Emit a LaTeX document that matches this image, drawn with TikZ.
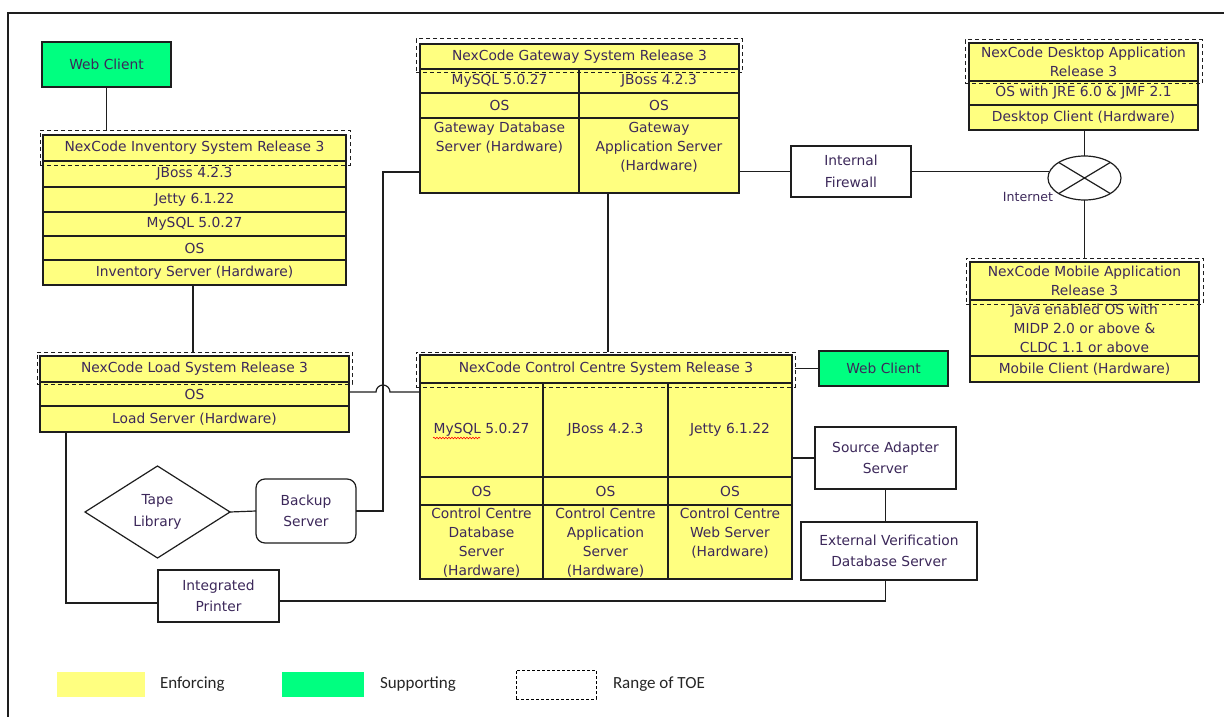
\documentclass[tikz,border=0pt]{standalone}
\usepackage{fontspec}
\setmainfont{DejaVu Sans}
\newfontfamily\legfont{Carlito}
\usetikzlibrary{shapes.geometric,decorations.pathmorphing,calc}
\definecolor{yel}{RGB}{255,255,128}
\definecolor{grn}{RGB}{0,255,128}
\definecolor{txtc}{RGB}{60,40,90}
\definecolor{ln}{RGB}{30,30,30}
\newcommand\cbox[7][]{\node[cell,#1,minimum width={(#5-#3)*1pt},minimum height={(#6-#4)*1pt}] (#2) at (#3,#4) {#7};}
\begin{document}
\begin{tikzpicture}[x=1pt,y=-1pt,
  font=\fontsize{13.8}{19}\selectfont, text=txtc,
  every node/.style={inner sep=0pt, outer sep=0pt},
  cell/.style={draw=ln, line width=1.2pt, fill=yel, anchor=north west, align=center},
  wbox/.style={fill=white, font=\fontsize{13.8}{21.5}\selectfont},
  suppbox/.style={fill=grn},
  toebox/.style={fill=none, dash pattern=on 4pt off 3pt, line width=1pt},
  conn/.style={draw=ln, line width=1.2pt},
  txt/.style={align=center},
  leg/.style={font=\legfont\fontsize{17}{20}\selectfont, text=black!85, anchor=west}]
\useasboundingbox (0,0) rectangle (1224,717);
\fill[white] (0,0) rectangle (1224,717);
% frame
\draw[ln, line width=1.3pt] (8,717) -- (8,13) -- (1224,13);

% web clients
\cbox[suppbox]{wc1}{42}{42}{171}{87}{Web Client}
\cbox[suppbox]{wc2}{819}{351}{948}{386}{Web Client}

% inventory
\cbox{inv1}{43}{135}{346}{161}{NexCode Inventory System Release 3}
\cbox{inv2}{43}{161}{346}{187}{JBoss 4.2.3}
\cbox{inv3}{43}{187}{346}{212}{Jetty 6.1.22}
\cbox{inv4}{43}{212}{346}{236}{MySQL 5.0.27}
\cbox{inv5}{43}{236}{346}{260}{OS}
\cbox{inv6}{43}{260}{346}{285}{Inventory Server (Hardware)}
\cbox[toebox]{invR}{40}{130}{350}{165}{}

% load
\cbox{ld1}{40}{356}{349}{382}{NexCode Load System Release 3}
\cbox{ld2}{40}{382}{349}{406}{OS}
\cbox{ld3}{40}{406}{349}{432}{Load Server (Hardware)}
\cbox[toebox]{ldR}{37}{352}{352}{384}{}

% gateway
\cbox{gw1}{420}{44}{739}{69}{NexCode Gateway System Release 3}
\cbox{gw2}{420}{69}{579}{93}{MySQL 5.0.27}
\cbox{gw3}{579}{69}{739}{93}{JBoss 4.2.3}
\cbox{gw4}{420}{93}{579}{118}{OS}
\cbox{gw5}{579}{93}{739}{118}{OS}
\cbox{gw6}{420}{118}{579}{193}{}
\cbox{gw7}{579}{118}{739}{193}{}
\node[txt, anchor=north] (gw6t) at ([yshift=-4pt]gw6.north) {Gateway Database\\Server (Hardware)};
\node[txt, anchor=north] (gw7t) at ([yshift=-4pt]gw7.north) {Gateway\\Application Server\\(Hardware)};
\cbox[toebox]{gwR}{416}{39}{742}{73}{}

% control centre
\cbox{cc1}{420}{355}{792}{383}{NexCode Control Centre System Release 3}
\cbox{cc2}{420}{383}{543}{477}{MySQL 5.0.27}
\cbox{cc3}{543}{383}{668}{477}{JBoss 4.2.3}
\cbox{cc4}{668}{383}{792}{477}{Jetty 6.1.22}
\cbox{cc5}{420}{477}{543}{505}{OS}
\cbox{cc6}{543}{477}{668}{505}{OS}
\cbox{cc7}{668}{477}{792}{505}{OS}
\cbox{cc8}{420}{505}{543}{579}{}
\cbox{cc9}{543}{505}{668}{579}{}
\cbox{cc10}{668}{505}{792}{579}{}
\node[txt, anchor=north] (cc8t) at ([yshift=-3pt]cc8.north) {Control Centre\\Database\\Server\\(Hardware)};
\node[txt, anchor=north] (cc9t) at ([yshift=-3pt]cc9.north) {Control Centre\\Application\\Server\\(Hardware)};
\node[txt, anchor=north] (cc10t) at ([yshift=-3pt]cc10.north) {Control Centre\\Web Server\\(Hardware)};
\cbox[toebox]{ccR}{416}{352}{795}{387}{}
\draw[red, line width=0.6pt, decorate, decoration={snake, amplitude=0.8pt, segment length=3pt}] (433,438) -- (480,438);

% desktop
\cbox{dk1}{969}{43}{1198}{81}{NexCode Desktop Application\\Release 3}
\cbox{dk2}{969}{81}{1198}{105}{OS with JRE 6.0 \& JMF 2.1}
\cbox{dk3}{969}{105}{1198}{130}{Desktop Client (Hardware)}
\cbox[toebox]{dkR}{965}{40}{1202}{84}{}

% mobile
\cbox{mb1}{970}{262}{1199}{300}{NexCode Mobile Application\\Release 3}
\cbox{mb2}{970}{300}{1199}{356}{Java enabled OS with\\MIDP 2.0 or above \&\\CLDC 1.1 or above}
\cbox{mb3}{970}{356}{1199}{382}{Mobile Client (Hardware)}
\cbox[toebox]{mbR}{966}{258}{1203}{304}{}

% white boxes
\cbox[wbox]{fw}{791}{146}{911}{197}{Internal\\Firewall}
\cbox[wbox]{sa}{815}{427}{956}{489}{Source Adapter\\Server}
\cbox[wbox]{ev}{801}{522}{977}{580}{External Verification\\Database Server}
\cbox[wbox]{pr}{158}{570}{279}{622}{Integrated\\Printer}
\cbox[wbox, rounded corners=9pt]{bk}{256}{479}{356}{543}{Backup\\Server}
\node[draw=ln, line width=1.2pt, diamond, minimum width=145pt, minimum height=92pt, align=center, font=\fontsize{13.8}{21.5}\selectfont] (tape) at (157.5,512) {Tape\\Library};

% internet
\node[draw=ln, line width=1.2pt, ellipse, minimum width=73pt, minimum height=44pt, fill=white] (inet) at (1084.5,178) {};
\draw[conn] (inet.north west) -- (inet.south east) (inet.north east) -- (inet.south west);
\node[anchor=east, font=\fontsize{12.6}{15}\selectfont] (inetl) at (1053,197) {Internet};

% connectors
\coordinate (c193) at (193,0);
\coordinate (c608) at (608,0);
\coordinate (c66) at (66,0);
\coordinate (j1) at (383,172);
\coordinate (h1) at (376,392);
\coordinate (h2) at (420,392);
\draw[conn] (wc1.south) -- (wc1.south |- invR.north);
\draw[conn] (c193 |- inv6.south) -- (c193 |- ldR.north);
\draw[conn] ([yshift=2pt]ld2.east) -- (h1) arc[start angle=180, end angle=0, radius=7pt] -- (h2);
\draw[conn] (bk.east) -| (j1) -- (j1 -| gw6.west);
\draw[conn] (c608 |- gw7.south) -- (c608 |- ccR.north);
\draw[conn] (fw.west -| gw7.east) -- (fw.west);
\draw[conn] (fw.east) -- ([xshift=1.4pt]fw.east -| inet.west);
\draw[conn] (inet.north |- dk3.south) -- (inet.north);
\draw[conn] (inet.south) -- (inet.south |- mbR.north);
\draw[conn] (wc2.west -| ccR.east) -- (wc2.west);
\draw[conn] (sa.west -| cc4.east) -- (sa.west);
\draw[conn] (sa.south) -- (sa.south |- ev.north);
\draw[conn] (sa.south |- ev.south) |- ([yshift=-5pt]pr.east);
\draw[conn] (c66 |- ld3.south) |- ([yshift=-7pt]pr.west);
\draw[conn] (tape.east) -- (bk.west);

% legend
\node[fill=yel, minimum width=88pt, minimum height=25pt, anchor=north west] (legY) at (57,672) {};
\node[leg] (legYt) at (160,684) {Enforcing};
\node[fill=grn, minimum width=82pt, minimum height=25pt, anchor=north west] (legG) at (282,672) {};
\node[leg] (legGt) at (380,684) {Supporting};
\node[draw=black, dash pattern=on 3pt off 2pt, line width=1pt, minimum width=80pt, minimum height=29pt, anchor=north west] (legR) at (516,670) {};
\node[leg] (legRt) at (613,684) {Range of TOE};
\end{tikzpicture}
\end{document}
